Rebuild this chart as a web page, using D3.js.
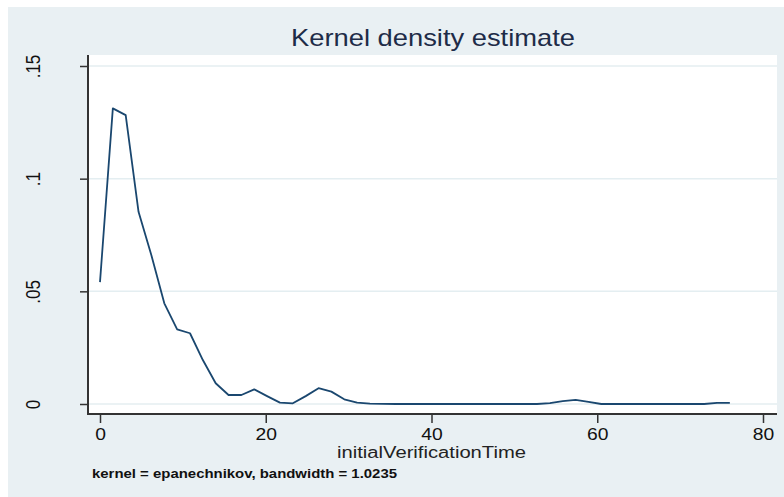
<!DOCTYPE html>
<html lang="en">
<head>
    <meta charset="UTF-8">
    <title>Kernel density estimate</title>
    <script src="https://d3js.org/d3.v7.min.js"></script>
    <style>
        body { margin: 0; background: #fff; font-family: "Liberation Sans", Arial, sans-serif; }
        svg { display: block; }
        .stretch { transform-box: fill-box; transform-origin: center; }
    </style>
</head>
<body>
    <svg id="chart" width="784" height="497"></svg>

    <script>
        // density values (50 evaluation points)
        const xPoints = [0, 1.55, 3.10, 4.65, 6.20, 7.76, 9.31, 10.86, 12.41, 13.96,
            15.51, 17.06, 18.61, 20.16, 21.71, 23.27, 24.82, 26.37, 27.92, 29.47,
            31.02, 32.57, 34.12, 35.67, 37.22, 38.78, 40.33, 41.88, 43.43, 44.98,
            46.53, 48.08, 49.63, 51.18, 52.73, 54.29, 55.84, 57.39, 58.94, 60.49,
            62.04, 63.59, 65.14, 66.69, 68.24, 69.80, 71.35, 72.90, 74.45, 76.00];
        const density = [0.0541, 0.1312, 0.1282, 0.0853, 0.0660, 0.0447, 0.0331, 0.0314, 0.0195, 0.0092,
            0.0040, 0.0040, 0.0065, 0.0035, 0.0006, 0.0003, 0.0035, 0.0070, 0.0055, 0.0021,
            0.0006, 0.0002, 0.0001, 0, 0, 0, 0, 0, 0, 0,
            0, 0, 0, 0, 0, 0.0004, 0.0013, 0.0018, 0.0009, 0,
            0, 0, 0, 0, 0, 0, 0, 0, 0.0005, 0.0005];

        const xTicks = [0, 20, 40, 60, 80];
        const yTicks = [0, 0.05, 0.1, 0.15];
        const yTickLabels = ["0", ".05", ".1", ".15"];

        const title = "Kernel density estimate";
        const xTitle = "initialVerificationTime";
        const note = "kernel = epanechnikov, bandwidth = 1.0235";

        const svg = d3.select("#chart");
        const plot = { left: 88, right: 777, top: 55, bottom: 414 };

        const x = d3.scaleLinear().domain([0, 80]).range([100, 763]);
        const y = d3.scaleLinear().domain([0, 0.15]).range([404, 66]);

        // graph region
        svg.append("rect")
            .attr("x", 8).attr("y", 7)
            .attr("width", 784 - 8).attr("height", 497 - 7)
            .attr("fill", "#e9f0f3");

        svg.append("rect")
            .attr("x", plot.left).attr("y", plot.top)
            .attr("width", plot.right - plot.left).attr("height", plot.bottom - plot.top)
            .attr("fill", "#fff");

        // grid
        svg.append("g").selectAll("line")
            .data(yTicks)
            .enter().append("line")
            .attr("x1", plot.left).attr("x2", plot.right)
            .attr("y1", d => y(d)).attr("y2", d => y(d))
            .attr("stroke", "#e4eef1")
            .attr("stroke-width", 1.5);

        // density line
        const line = d3.line()
            .x((d, i) => x(xPoints[i]))
            .y(d => y(d));

        svg.append("path")
            .datum(density)
            .attr("d", line)
            .attr("fill", "none")
            .attr("stroke", "#1a476f")
            .attr("stroke-width", 1.8)
            .attr("stroke-linejoin", "round");

        // axes
        const xAxis = svg.append("g")
            .attr("transform", `translate(0,${plot.bottom})`)
            .call(d3.axisBottom(x).tickValues(xTicks).tickSize(9).tickPadding(5).tickFormat(d3.format("d")));
        xAxis.select(".domain").remove();
        xAxis.append("line")
            .attr("x1", plot.left - 1).attr("x2", plot.right)
            .attr("stroke", "#333").attr("stroke-width", 2);
        xAxis.selectAll(".tick line").attr("stroke", "#333").attr("stroke-width", 1.5);
        xAxis.selectAll(".tick text")
            .attr("class", "stretch")
            .style("transform", "scaleX(1.17)")
            .attr("fill", "#111")
            .style("font-size", "16.5px")
            .style("font-family", "'Liberation Sans', Arial, sans-serif");

        const yAxis = svg.append("g")
            .attr("transform", `translate(${plot.left},0)`)
            .call(d3.axisLeft(y).tickValues(yTicks).tickSize(8).tickFormat((d, i) => yTickLabels[i]));
        yAxis.select(".domain").remove();
        yAxis.append("line")
            .attr("y1", plot.top).attr("y2", plot.bottom + 1)
            .attr("stroke", "#333").attr("stroke-width", 2);
        yAxis.selectAll(".tick line").attr("stroke", "#333").attr("stroke-width", 1.5);
        yAxis.selectAll(".tick text")
            .attr("x", null).attr("dy", null)
            .attr("transform", "translate(-48,0) scale(1.17,1) rotate(-90)")
            .attr("text-anchor", "middle")
            .attr("fill", "#111")
            .style("font-size", "17px")
            .style("font-family", "'Liberation Sans', Arial, sans-serif");

        // titles
        svg.append("text")
            .attr("x", 433).attr("y", 46)
            .attr("text-anchor", "middle")
            .attr("textLength", 284).attr("lengthAdjust", "spacingAndGlyphs")
            .attr("fill", "#1e2c48")
            .style("font-size", "24px")
            .text(title);

        svg.append("text")
            .attr("x", 431.5).attr("y", 458)
            .attr("text-anchor", "middle")
            .attr("textLength", 189).attr("lengthAdjust", "spacingAndGlyphs")
            .attr("fill", "#222")
            .style("font-size", "16px")
            .text(xTitle);

        svg.append("text")
            .attr("x", 92).attr("y", 478)
            .attr("textLength", 305).attr("lengthAdjust", "spacingAndGlyphs")
            .attr("fill", "#111")
            .style("font-size", "12.5px")
            .style("font-weight", "bold")
            .text(note);
    </script>
</body>
</html>
